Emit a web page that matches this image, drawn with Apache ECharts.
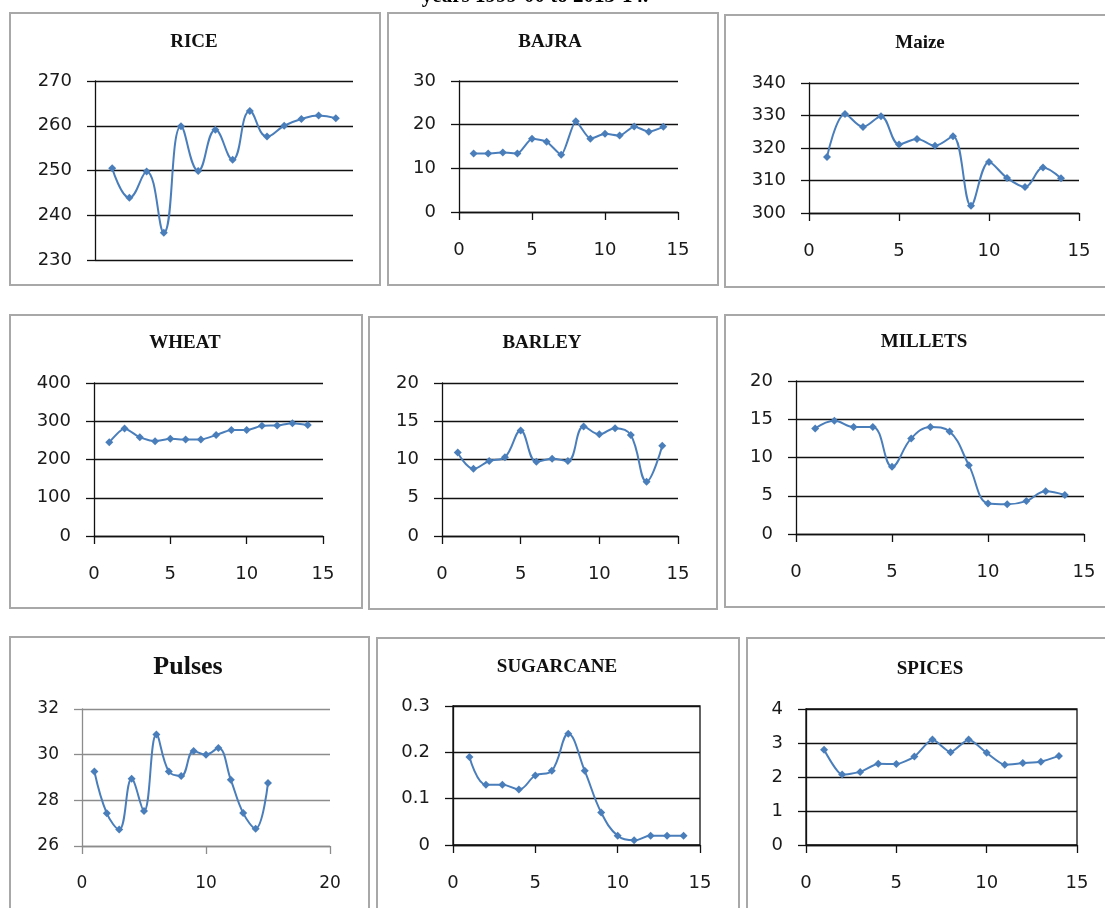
<!DOCTYPE html>
<html>
<head>
    <meta charset="utf-8">
    <title>Crop trends, years 1999-00 to 2013-14</title>
    <script src="https://cdn.jsdelivr.net/npm/echarts@6/dist/echarts.min.js"></script>
    <style>
        html, body { margin: 0; padding: 0; background: #fff; }
        #chart { width: 1105px; height: 908px; }
    </style>
</head>
<body>
    <div id="chart"></div>
    <script>
        // x positions (year index)
        var years14 = [1, 2, 3, 4, 5, 6, 7, 8, 9, 10, 11, 12, 13, 14];
        var years15 = [1, 2, 3, 4, 5, 6, 7, 8, 9, 10, 11, 12, 13, 14, 15];

        // values
        var rice = [250.5, 243.9, 249.8, 236.1, 259.9, 249.9, 259.1, 252.4, 263.3, 257.6, 260.0, 261.5, 262.3, 261.7];
        var bajra = [13.4, 13.4, 13.6, 13.4, 16.8, 16.1, 13.1, 20.8, 16.8, 17.9, 17.5, 19.6, 18.4, 19.5];
        var maize = [317.2, 330.5, 326.5, 329.8, 321.1, 322.8, 320.7, 323.6, 302.2, 315.7, 310.8, 308.0, 314.0, 310.7];
        var wheat = [245, 281, 258, 248, 254, 252, 252, 264, 277, 277, 288, 289, 295, 290];
        var barley = [10.9, 8.8, 9.8, 10.3, 13.8, 9.7, 10.1, 9.8, 14.3, 13.3, 14.1, 13.2, 7.1, 11.8];
        var millets = [13.8, 14.8, 14.0, 14.0, 8.8, 12.5, 14.0, 13.4, 9.0, 4.0, 3.9, 4.3, 5.6, 5.1];
        var pulses = [29.26, 27.43, 26.72, 28.94, 27.53, 30.88, 29.26, 29.07, 30.16, 30.0, 30.29, 28.9, 27.44, 26.76, 28.76];
        var sugarcane = [0.19, 0.13, 0.13, 0.12, 0.15, 0.16, 0.24, 0.16, 0.07, 0.02, 0.01, 0.02, 0.02, 0.02];
        var spices = [2.8, 2.07, 2.15, 2.39, 2.38, 2.6, 3.1, 2.73, 3.1, 2.71, 2.36, 2.41, 2.45, 2.62];

        var titles = ['RICE', 'BAJRA', 'Maize', 'WHEAT', 'BARLEY', 'MILLETS', 'Pulses', 'SUGARCANE', 'SPICES'];

        var blue = '#4a7ebb';
        var ink = '#1a1a1a';

        // panel layout: frame box, plot box, title centre, axis ranges
        var panels = [
            { title: titles[0], xs: years14, ys: rice, frame: [10, 13, 370, 272], plot: [95, 81, 258, 179], tc: [194, 42],
              xmin: 0, xmax: 15, xint: 5, ymin: 230, ymax: 270, yint: 10, hideX: true, smooth: 0.45 },
            { title: titles[1], xs: years14, ys: bajra, frame: [388, 13, 330, 272], plot: [459, 81, 219, 131], tc: [550, 42],
              xmin: 0, xmax: 15, xint: 5, ymin: 0, ymax: 30, yint: 10, smooth: 0.2 },
            { title: titles[2], xs: years14, ys: maize, frame: [725, 15, 400, 272], plot: [809, 83, 270, 130], tc: [920, 43],
              xmin: 0, xmax: 15, xint: 5, ymin: 300, ymax: 340, yint: 10, smooth: 0.35 },
            { title: titles[3], xs: years14, ys: wheat, frame: [10, 315, 352, 293], plot: [94, 383, 229, 153], tc: [185, 343],
              xmin: 0, xmax: 15, xint: 5, ymin: 0, ymax: 400, yint: 100, smooth: 0.2 },
            { title: titles[4], xs: years14, ys: barley, frame: [369, 317, 348, 292], plot: [442, 383, 236, 153], tc: [542, 343],
              xmin: 0, xmax: 15, xint: 5, ymin: 0, ymax: 20, yint: 5, smooth: 0.4 },
            { title: titles[5], xs: years14, ys: millets, frame: [725, 315, 400, 292], plot: [796, 381, 288, 153], tc: [924, 342],
              xmin: 0, xmax: 15, xint: 5, ymin: 0, ymax: 20, yint: 5, smooth: 0.4 },
            { title: titles[6], xs: years15, ys: pulses, frame: [10, 637, 359, 300], plot: [82, 709, 248, 137], tc: [188, 667],
              xmin: 0, xmax: 20, xint: 10, ymin: 26, ymax: 32, yint: 2, smooth: 0.4, gray: true, big: true },
            { title: titles[7], xs: years14, ys: sugarcane, frame: [377, 638, 362, 300], plot: [453, 706, 247, 139], tc: [557, 667],
              xmin: 0, xmax: 15, xint: 5, ymin: 0, ymax: 0.3, yint: 0.1, smooth: 0.4, box: true },
            { title: titles[8], xs: years14, ys: spices, frame: [747, 638, 400, 300], plot: [806, 709, 271, 136], tc: [930, 669],
              xmin: 0, xmax: 15, xint: 5, ymin: 0, ymax: 4, yint: 1, smooth: 0.2, box: true }
        ];

        var grids = [], xAxes = [], yAxes = [], series = [], graphics = [];

        graphics.push({
            type: 'text', x: 535, y: -14,
            style: { text: 'years 1999-00 to 2013-14.', font: 'bold 21px "Liberation Serif"', fill: '#000',
                     textAlign: 'center', textVerticalAlign: 'top' }
        });

        for (var i = 0; i < panels.length; i++) {
            var p = panels[i];
            var lineCol = p.gray ? '#8c8c8c' : '#111';
            var fs = p.big ? 17 : 18;

            graphics.push({
                type: 'rect', z: -1,
                shape: { x: p.frame[0], y: p.frame[1], width: p.frame[2], height: p.frame[3] },
                style: { fill: null, stroke: '#a8a8a8', lineWidth: 2 }
            });
            graphics.push({
                type: 'text', x: p.tc[0], y: p.tc[1],
                style: { text: p.title, font: 'bold ' + (p.big ? 26 : 19) + 'px "Liberation Serif"', fill: '#111',
                         textAlign: 'center', textVerticalAlign: 'middle' }
            });

            grids.push({
                left: p.plot[0], top: p.plot[1], width: p.plot[2], height: p.plot[3],
                show: !!p.box, borderColor: '#111', borderWidth: 1.3, backgroundColor: 'transparent'
            });

            xAxes.push({
                gridIndex: i, type: 'value', min: p.xmin, max: p.xmax, interval: p.xint,
                show: !p.hideX,
                axisLine: { show: true, onZero: false, lineStyle: { color: lineCol, width: 1.3 } },
                axisTick: { show: true, length: 8, lineStyle: { color: lineCol, width: 1.3 } },
                axisLabel: { margin: 29, fontSize: fs, color: ink, fontFamily: 'DejaVu Sans' },
                splitLine: { show: false }
            });

            yAxes.push({
                gridIndex: i, type: 'value', min: p.ymin, max: p.ymax, interval: p.yint,
                axisLine: { show: true, lineStyle: { color: lineCol, width: 1.3 } },
                axisTick: { show: true, length: 8, lineStyle: { color: lineCol, width: 1.3 } },
                axisLabel: { margin: 23, fontSize: fs, color: ink, fontFamily: 'DejaVu Sans' },
                splitLine: { show: true, lineStyle: { color: lineCol, width: 1.3 } }
            });

            var pts = [];
            for (var k = 0; k < p.xs.length; k++) {
                pts.push([p.xs[k], p.ys[k]]);
            }

            series.push({
                name: p.title, type: 'line', xAxisIndex: i, yAxisIndex: i,
                data: pts, smooth: p.smooth,
                symbol: 'diamond', symbolSize: 8, showSymbol: true,
                lineStyle: { color: blue, width: 2 },
                itemStyle: { color: blue }
            });
        }

        var myChart = echarts.init(document.getElementById('chart'));
        var option = {
            animation: false,
            backgroundColor: '#fff',
            grid: grids,
            xAxis: xAxes,
            yAxis: yAxes,
            series: series,
            graphic: graphics
        };
        myChart.setOption(option);
    </script>
</body>
</html>
